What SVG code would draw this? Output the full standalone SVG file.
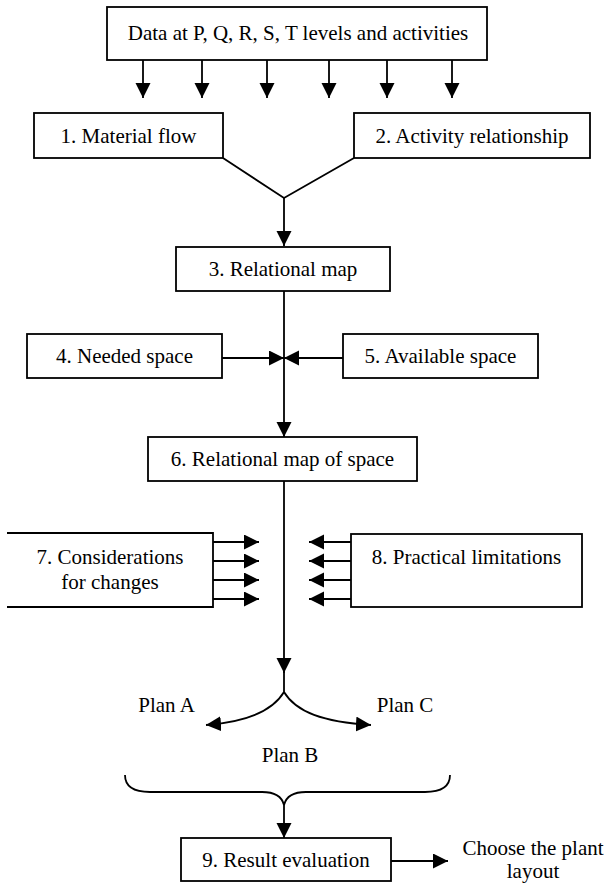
<svg xmlns="http://www.w3.org/2000/svg" width="608" height="886" viewBox="0 0 608 886">
<style>
.box{fill:#fff;stroke:#000;stroke-width:1.8}
.ln{fill:none;stroke:#000;stroke-width:1.8}
.arr{fill:none;stroke:#000;stroke-width:1.8;marker-end:url(#ah)}
text{font-family:"Liberation Serif","Times New Roman",serif;font-size:21px;fill:#000;text-anchor:middle}
</style>
<defs>
<marker id="ah" markerUnits="userSpaceOnUse" markerWidth="18" markerHeight="18" refX="15" refY="7.5" orient="auto">
<path d="M0,0 L15,7.5 L0,15 z" fill="#000"/>
</marker>
</defs>
<rect width="608" height="886" fill="#fff"/>

<g id="connectors">
<line class="arr" x1="143" y1="60" x2="143" y2="98"/>
<line class="arr" x1="202" y1="60" x2="202" y2="98"/>
<line class="arr" x1="267" y1="60" x2="267" y2="98"/>
<line class="arr" x1="329" y1="60" x2="329" y2="98"/>
<line class="arr" x1="387" y1="60" x2="387" y2="98"/>
<line class="arr" x1="452" y1="60" x2="452" y2="98"/>
<polyline class="ln" points="223,158 284,198 354,158"/>
<line class="arr" x1="284" y1="198" x2="284" y2="246"/>
<line class="arr" x1="284" y1="291" x2="284" y2="437"/>
<line class="arr" x1="222" y1="358" x2="284" y2="358"/>
<line class="arr" x1="343" y1="358" x2="284" y2="358"/>
<line class="arr" x1="284" y1="481" x2="284" y2="673"/>
<line class="ln" x1="284" y1="670" x2="284" y2="692"/>
<line class="arr" x1="213" y1="542" x2="259" y2="542"/>
<line class="arr" x1="213" y1="561" x2="259" y2="561"/>
<line class="arr" x1="213" y1="580" x2="259" y2="580"/>
<line class="arr" x1="213" y1="599" x2="259" y2="599"/>
<line class="arr" x1="351" y1="542" x2="309" y2="542"/>
<line class="arr" x1="351" y1="561" x2="309" y2="561"/>
<line class="arr" x1="351" y1="580" x2="309" y2="580"/>
<line class="arr" x1="351" y1="599" x2="309" y2="599"/>
<path class="arr" d="M284,692 C272,712 245,722 206,725"/>
<path class="arr" d="M284,692 C296,712 323,722 371,725"/>
<path class="ln" d="M125,775 C125,787 134,792 150,792 H262 C275,792 282,797 284,805 C286,797 293,792 306,792 H425 C441,792 450,787 450,775"/>
<line class="arr" x1="284" y1="805" x2="284" y2="838"/>
<line class="arr" x1="391" y1="861" x2="448" y2="861"/>
</g>

<g id="n0"><rect class="box" x="107" y="7" width="380" height="53"/><text x="298" y="40">Data at P, Q, R, S, T levels and activities</text></g>
<g id="n1"><rect class="box" x="34" y="113" width="189" height="45"/><text x="128.5" y="143">1. Material flow</text></g>
<g id="n2"><rect class="box" x="354" y="113" width="236" height="45"/><text x="472" y="143">2. Activity relationship</text></g>
<g id="n3"><rect class="box" x="176" y="247" width="214" height="44"/><text x="283" y="276">3. Relational map</text></g>
<g id="n4"><rect class="box" x="27" y="334" width="195" height="44"/><text x="124.5" y="363">4. Needed space</text></g>
<g id="n5"><rect class="box" x="343" y="334" width="195" height="44"/><text x="440.5" y="363">5. Available space</text></g>
<g id="n6"><rect class="box" x="148" y="437" width="269" height="44"/><text x="282.5" y="466">6. Relational map of space</text></g>
<g id="n7"><path class="box" d="M7,533 H213 V607 H7"/><text x="110" y="564">7. Considerations</text><text x="110" y="589">for changes</text></g>
<g id="n8"><rect class="box" x="351" y="534" width="231" height="73"/><text x="466.5" y="564">8. Practical limitations</text></g>
<g id="planA"><text x="166.5" y="712">Plan A</text></g>
<g id="planC"><text x="405" y="712">Plan C</text></g>
<g id="planB"><text x="290" y="762">Plan B</text></g>
<g id="n9"><rect class="box" x="181" y="838" width="210" height="43"/><text x="286" y="867">9. Result evaluation</text></g>
<g id="out"><text x="533" y="855">Choose the plant</text><text x="533" y="878">layout</text></g>
</svg>
